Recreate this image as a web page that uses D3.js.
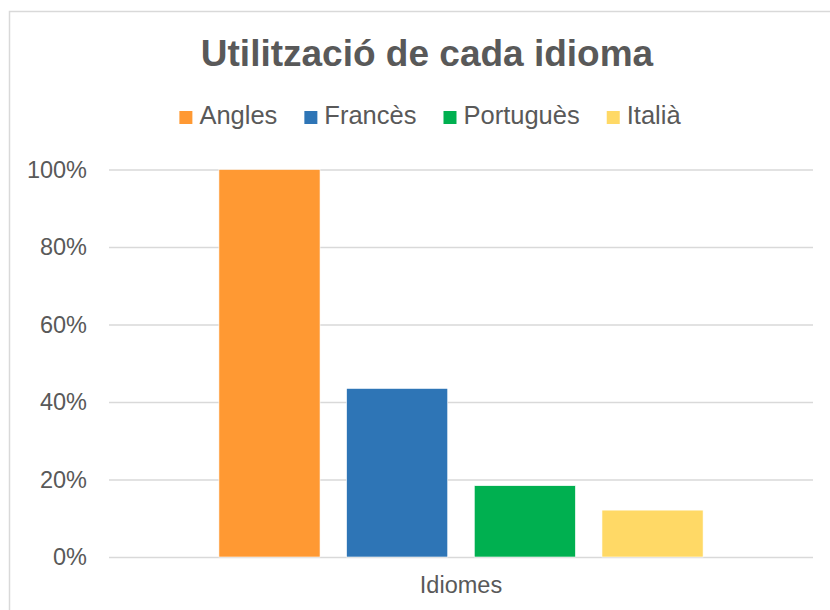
<!DOCTYPE html>
<html>
<head>
<meta charset="utf-8">
<script src="https://cdn.jsdelivr.net/npm/d3@7"></script>
<style>
body{margin:0;background:#fff;}
svg{display:block;font-family:"Liberation Sans",Arial,sans-serif;}
</style>
</head>
<body>
<svg id="chart" width="830" height="610"></svg>
<script>
// dades del gràfic
var categories=["Idiomes"];
var series=["Angles","Francès","Portuguès","Italià"];
var values=[1.00,0.435,0.184,0.121];
var colors=["#FF9933","#2E75B6","#00B050","#FFD966"];
var yTicks=[0,0.2,0.4,0.6,0.8,1.0];

var svg=d3.select("#chart");
var textColor="#595959";

// marc del gràfic (retallat a dreta i a baix)
svg.append("rect").attr("x",9.5).attr("y",11.5).attr("width",900).attr("height",700)
    .style("fill","none").style("stroke","#D9D9D9").style("stroke-width",1.5)

var plotLeft=109,plotRight=813,plotTop=169.5,plotBottom=557;

var y=d3.scaleLinear().domain([0,1]).range([plotBottom,plotTop]);
var x0=d3.scaleBand().domain(categories).range([plotLeft,plotRight]).paddingInner(0).paddingOuter(0.227);
var x1=d3.scaleBand().domain(series).range([0,x0.bandwidth()]).paddingInner(0.208).paddingOuter(0);

// graella + eix Y
var yAxis=d3.axisLeft(y).tickValues(yTicks).tickFormat(d3.format(".0%")).tickSize(-(plotRight-plotLeft)).tickPadding(22);
var gy=svg.append("g").attr("transform","translate("+plotLeft+",0)").call(yAxis);
gy.select(".domain").remove();
gy.selectAll(".tick line").style("stroke","#D9D9D9").style("stroke-width",1.5);
gy.selectAll(".tick text").style("fill",textColor).style("font-size","23.5px").style("font-family","'Liberation Sans',Arial,sans-serif");

// barres
var data=series.map(function(s,i){return {name:s,value:values[i],color:colors[i]};});
svg.append("g").attr("transform","translate("+x0("Idiomes")+",0)")
    .selectAll("rect").data(data).enter().append("rect")
    .attr("x",function(d){return x1(d.name);})
    .attr("y",function(d){return y(d.value);})
    .attr("width",x1.bandwidth())
    .attr("height",function(d){return y(0)-y(d.value);})
    .style("fill",function(d){return d.color;})
    .style("stroke","#fff").style("stroke-width",0.6)

// eix X
svg.append("text").attr("x",x0("Idiomes")+x0.bandwidth()/2).attr("y",593)
    .attr("text-anchor","middle").style("fill",textColor).style("font-size","23.5px")
    .text(categories[0])

// títol
svg.append("text").attr("x",427).attr("y",66).attr("text-anchor","middle")
    .style("fill",textColor).style("font-size","37px").style("font-weight","bold")
    .text("Utilització de cada idioma")

// llegenda
var legend=svg.append("g");
var items=legend.selectAll("g").data(data).enter().append("g");
items.append("rect").attr("x",0).attr("y",-13).attr("width",13).attr("height",13)
    .style("fill",function(d){return d.color;})
items.append("text").attr("x",20).attr("y",0).style("fill",textColor).style("font-size","25.5px")
    .text(function(d){return d.name;})
var xpos=0,positions=[];
items.each(function(d){
    positions.push(xpos);
    xpos+=20+this.querySelector("text").getComputedTextLength()+27;
})
var legendWidth=xpos-27;
var lx=430-legendWidth/2;
items.attr("transform",function(d,i){return "translate("+(lx+positions[i])+",124)";})
</script>
</body>
</html>
